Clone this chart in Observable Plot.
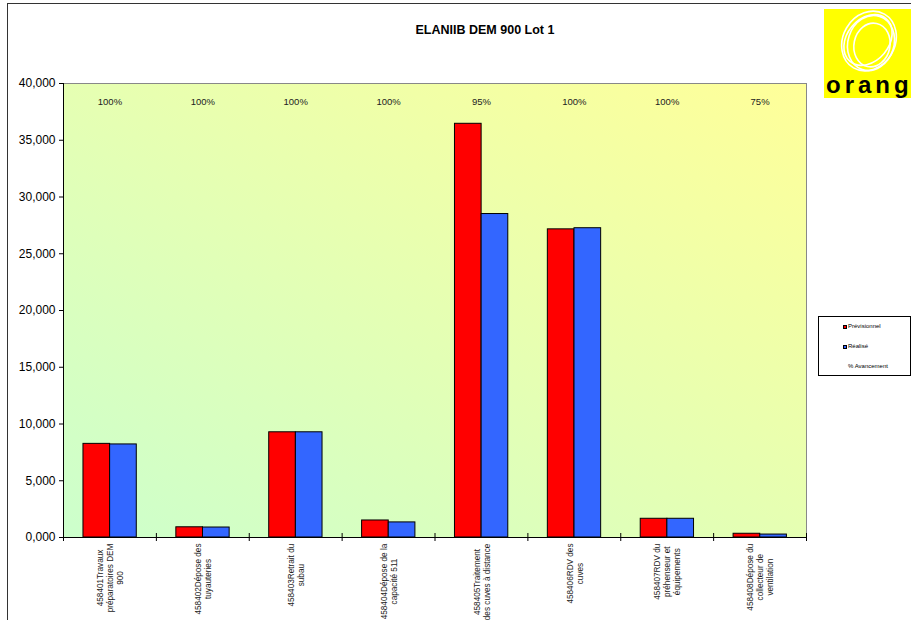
<!DOCTYPE html>
<html>
<head>
<meta charset="utf-8">
<script src="https://cdn.jsdelivr.net/npm/d3@7"></script>
<script src="https://cdn.jsdelivr.net/npm/@observablehq/plot@0.6"></script>
<style>
  body { margin: 0; background: #fff; font-family: Arial, "Liberation Sans", sans-serif; }
  #wrap { position: relative; width: 911px; height: 620px; overflow: hidden; background: #fff; }
  #border { position: absolute; left: 7px; top: 3px; width: 1000px; height: 1000px; border-left: 1px solid #333; border-top: 1px solid #333; }
  #chart { position: absolute; left: 0; top: 0; }
  #title { position: absolute; left: 335px; top: 23px; width: 300px; text-align: center; font-weight: bold; font-size: 12.5px; color: #000; }
  #legend { position: absolute; left: 818px; top: 316px; width: 91px; height: 58px; border: 1px solid #000; background: #fff; font-size: 6px; color: #000; }
  .li { position: absolute; left: 24px; white-space: nowrap; line-height: 8px; }
  .sw { display: inline-block; width: 4px; height: 4px; border: 1px solid #000; margin-right: 1px; vertical-align: -1px; box-sizing: border-box; }
  #logo { position: absolute; left: 824px; top: 9px; }
</style>
</head>
<body>
<div id="wrap">
  <div id="border"></div>
  <div id="chart"></div>
  <div id="title">ELANIIB DEM 900 Lot 1</div>
  <div id="legend"></div>
  <svg id="logo" width="87" height="90" viewBox="0 0 87 90">
    <rect x="0" y="0" width="87" height="89" fill="#ffff00"></rect>
    <g fill="none" stroke="#fff" stroke-width="1.6">
      <ellipse cx="45" cy="32" rx="26" ry="31" transform="rotate(30 45 32)"></ellipse>
      <ellipse cx="47" cy="34" rx="23" ry="28" transform="rotate(18 47 34)"></ellipse>
      <ellipse cx="44" cy="31" rx="21" ry="28" transform="rotate(40 44 31)"></ellipse>
      <ellipse cx="48" cy="36" rx="18" ry="22" transform="rotate(12 48 36)"></ellipse>
    </g>
    <text x="2" y="84" font-family="Arial, 'Liberation Sans', sans-serif" font-weight="bold" font-size="24" letter-spacing="4" fill="#000">orange</text>
  </svg>
</div>
<script>
const categories = [
  "458401Travaux\npréparatoires DEM\n900",
  "458402Dépose des\ntuyauteries",
  "458403Retrait du\nsubau",
  "458404Dépose de la\ncapacité 511",
  "458405Traitement\ndes cuves à distance",
  "458406RDV des\ncuves",
  "458407RDV du\npréhenseur et\néquipements",
  "458408Dépose du\ncollecteur de\nventilation"
];
const prevValues = [8250, 900, 9270, 1500, 36450, 27150, 1650, 330];
const realValues = [8200, 880, 9270, 1330, 28500, 27250, 1650, 260];
const percentLabels = ["100%", "100%", "100%", "100%", "95%", "100%", "100%", "75%"];
const yTicks = [0, 5000, 10000, 15000, 20000, 25000, 30000, 35000, 40000];
const yTickLabels = ["0,000", "5,000", "10,000", "15,000", "20,000", "25,000", "30,000", "35,000", "40,000"];
const seriesNames = ["Prévisionnel", "Réalisé", "% Avancement"];
const seriesColors = ["#ff0000", "#3366ff", null];

const W = 911, H = 620, ML = 63, MR = 105, MT = 83, MB = 83;
const bw = (W - ML - MR) / categories.length;
const rows = categories.map((c, i) => ({cat: c, prev: prevValues[i], real: realValues[i], pct: percentLabels[i]}));

const plot = Plot.plot({
  width: W,
  height: H,
  marginLeft: ML,
  marginRight: MR,
  marginTop: MT,
  marginBottom: MB,
  style: {fontFamily: "Arial, 'Liberation Sans', sans-serif", fontSize: "12px", color: "#000", background: "transparent", overflow: "visible"},
  x: {domain: categories, padding: 0, round: false, axis: null},
  y: {domain: [0, 40000], ticks: yTicks, tickFormat: d => yTickLabels[yTicks.indexOf(d)], tickSize: 4, tickPadding: 4, label: null},
  marks: [
    Plot.frame({fill: "url(#bgGrad)", stroke: "#888"}),
    Plot.barY(rows, {x: "cat", y: "prev", fill: seriesColors[0], stroke: "#000", strokeWidth: 1, insetLeft: bw * 0.215, insetRight: bw * (1 - 0.502)}),
    Plot.barY(rows, {x: "cat", y: "real", fill: seriesColors[1], stroke: "#000", strokeWidth: 1, insetLeft: bw * 0.502, insetRight: bw * (1 - 0.789)}),
    Plot.ruleY([0], {stroke: "#000"}),
    Plot.ruleX([categories[0]], {dx: -bw / 2, stroke: "#000"}),
    Plot.ruleX(categories, {x: d => d, dx: -bw / 2, y1: 0, y2: 0, insetTop: -4, insetBottom: -4, stroke: "#000"}),
    Plot.ruleX([categories[categories.length - 1]], {x: d => d, dx: bw / 2, y1: 0, y2: 0, insetTop: -4, insetBottom: -4, stroke: "#000"}),
    Plot.text(rows, {x: "cat", text: "pct", frameAnchor: "top", dy: 15, fontSize: 9.5, fill: "#222"}),
    Plot.text(rows, {x: "cat", text: "cat", frameAnchor: "bottom", rotate: -90, textAnchor: "middle", lineAnchor: "middle", lineHeight: 1.22, fontSize: 8.2, fill: "#222"})
  ]
});

// gradient definition for the plot background
const ns = "http://www.w3.org/2000/svg";
const defs = document.createElementNS(ns, "defs");
const grad = document.createElementNS(ns, "linearGradient");
grad.setAttribute("id", "bgGrad");
grad.setAttribute("x1", "0"); grad.setAttribute("y1", "1");
grad.setAttribute("x2", "1"); grad.setAttribute("y2", "0");
[["0%", "#ccffcc"], ["100%", "#ffff99"]].forEach(([o, c]) => {
  const s = document.createElementNS(ns, "stop");
  s.setAttribute("offset", o); s.setAttribute("stop-color", c);
  grad.appendChild(s);
});
defs.appendChild(grad);
plot.insertBefore(defs, plot.firstChild);
document.getElementById("chart").appendChild(plot);

// center-align rotated category labels with their top just under the axis
plot.querySelectorAll("text").forEach(t => {
  const tr = t.getAttribute("transform") || "";
  if (!/rotate\(-90\)/.test(tr)) return;
  const m = tr.match(/translate\(([^,\s]+)[,\s]+([^)]+)\)/);
  if (!m) return;
  const b = t.getBBox();
  const x = +m[1], y = +m[2];
  t.setAttribute("transform", `translate(${x},${y + 6 + b.width / 2}) rotate(-90)`);
});

// legend
const legend = document.getElementById("legend");
seriesNames.forEach((name, i) => {
  const d = document.createElement("div");
  d.className = "li";
  d.style.top = (5 + i * 20) + "px";
  if (seriesColors[i]) {
    const sw = document.createElement("span");
    sw.className = "sw";
    sw.style.background = seriesColors[i];
    d.appendChild(sw);
  } else {
    d.style.left = "29px";
  }
  d.appendChild(document.createTextNode(name));
  legend.appendChild(d);
});
</script>
</body>
</html>
